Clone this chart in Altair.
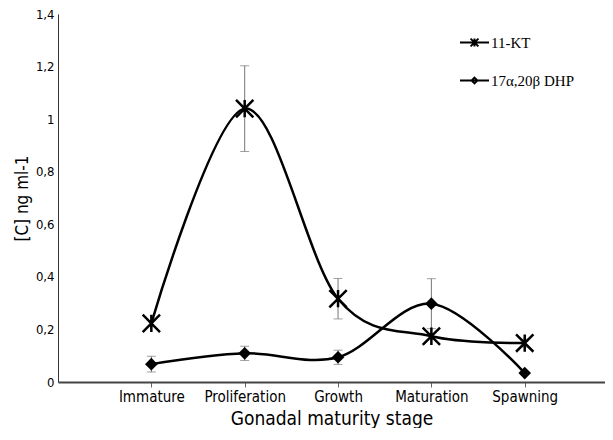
import altair as alt
import pandas as pd

stages = ["Immature", "Proliferation", "Growth", "Maturation", "Spawning"]
series_names = ["11-KT", "17α,20β DHP"]
kt_mean = [0.223, 1.04, 0.317, 0.174, 0.148]
kt_err = [0.0, 0.163, 0.077, 0.0, 0.015]
dhp_mean = [0.068, 0.109, 0.094, 0.298, 0.034]
dhp_err = [0.03, 0.027, 0.027, 0.095, 0.0]
y_ticks = [0, 0.2, 0.4, 0.6, 0.8, 1.0, 1.2, 1.4]

rows = []
for name, means, errs in [(series_names[0], kt_mean, kt_err), (series_names[1], dhp_mean, dhp_err)]:
    for i, (m, e) in enumerate(zip(means, errs)):
        rows.append({"series": name, "idx": i, "stage": stages[i], "mean": m,
                     "lo": m - e, "hi": m + e, "has_err": e > 0})
df = pd.DataFrame(rows)

SANS = "Liberation Sans Narrow, DejaVu Sans Condensed, Arial Narrow, sans-serif"
SERIF = "Liberation Serif, Times New Roman, serif"

star = "M-1,-1L1,1M-1,1L1,-1M0,-1L0,1"
leg_star = "M-1,0L1,0M-0.27,-0.27L0.27,0.27M-0.27,0.27L0.27,-0.27M0,-0.27L0,0.27"
leg_diamond = "M-1,0L1,0M0,-0.2L0.2,0L0,0.2L-0.2,0Z"

label_expr = "[" + ",".join("'%s'" % s for s in stages) + "][datum.value]"

x = alt.X("idx:Q", scale=alt.Scale(domain=[-1, 4.86], nice=False, zero=False),
          axis=alt.Axis(values=list(range(len(stages))), labelExpr=label_expr,
                        title="Gonadal maturity stage", grid=False,
                        domainColor="#444", domainWidth=2, tickColor="#666",
                        tickSize=5, labelFontSize=15, titleFontSize=19,
                        labelFont=SANS, titleFont=SANS, labelColor="#000",
                        titleColor="#000", titleFontWeight="normal",
                        labelPadding=2, titlePadding=5))
y = alt.Y("mean:Q", scale=alt.Scale(domain=[0, 1.4], nice=False),
          axis=alt.Axis(values=y_ticks,
                        labelExpr="replace(format(datum.value, '~g'), '.', ',')",
                        title="[C] ng ml-1", grid=False, ticks=False, tickSize=0,
                        domainColor="#333", labelFontSize=13, titleFontSize=17,
                        labelFont=SANS, titleFont=SANS, labelColor="#000",
                        titleColor="#000", titleFontWeight="normal",
                        labelPadding=4, titlePadding=4))

base = alt.Chart(df)

lines = base.mark_line(interpolate="cardinal", color="black", strokeWidth=2.5).encode(
    x=x, y=y, detail="series:N")

err = base.transform_filter("datum.has_err").mark_rule(color="#777", strokeWidth=1).encode(
    x="idx:Q", y="lo:Q", y2="hi:Q")
cap_hi = base.transform_filter("datum.has_err").mark_tick(
    orient="horizontal", color="#777", size=9, thickness=1).encode(x="idx:Q", y="hi:Q")
cap_lo = base.transform_filter("datum.has_err").mark_tick(
    orient="horizontal", color="#777", size=9, thickness=1).encode(x="idx:Q", y="lo:Q")

kt_pts = base.transform_filter(alt.datum.series == series_names[0]).mark_point(
    shape=star, size=300, stroke="black", strokeWidth=2.5, fill=None, opacity=1).encode(
    x="idx:Q", y="mean:Q")
dhp_pts = base.transform_filter(alt.datum.series == series_names[1]).mark_point(
    shape="diamond", size=160, filled=True, color="black", opacity=1).encode(
    x="idx:Q", y="mean:Q")

legend_proxy = base.mark_point(opacity=0, filled=False, color="black",
                               stroke="black", strokeWidth=2).encode(
    x="idx:Q", y="mean:Q",
    shape=alt.Shape("series:N", scale=alt.Scale(domain=series_names, range=[leg_star, leg_diamond]),
                    legend=alt.Legend(title=None, orient="none", legendX=401, legendY=13,
                                      symbolSize=841, symbolStrokeWidth=2,
                                      symbolStrokeColor="black", symbolFillColor="black",
                                      symbolOpacity=1, labelFont=SERIF, labelFontSize=15,
                                      labelColor="#000", rowPadding=14, labelOffset=1,
                                      padding=0)))

chart = alt.layer(lines, err, cap_hi, cap_lo, kt_pts, dhp_pts, legend_proxy).properties(
    width=597, height=420, background="white",
    padding={"left": 5, "top": 0, "right": 0, "bottom": 0},
    autosize=alt.AutoSizeParams(type="fit", contains="padding"),
).configure_view(stroke=None)

chart.save("out.html", embed_options={"renderer": "svg", "actions": False})
